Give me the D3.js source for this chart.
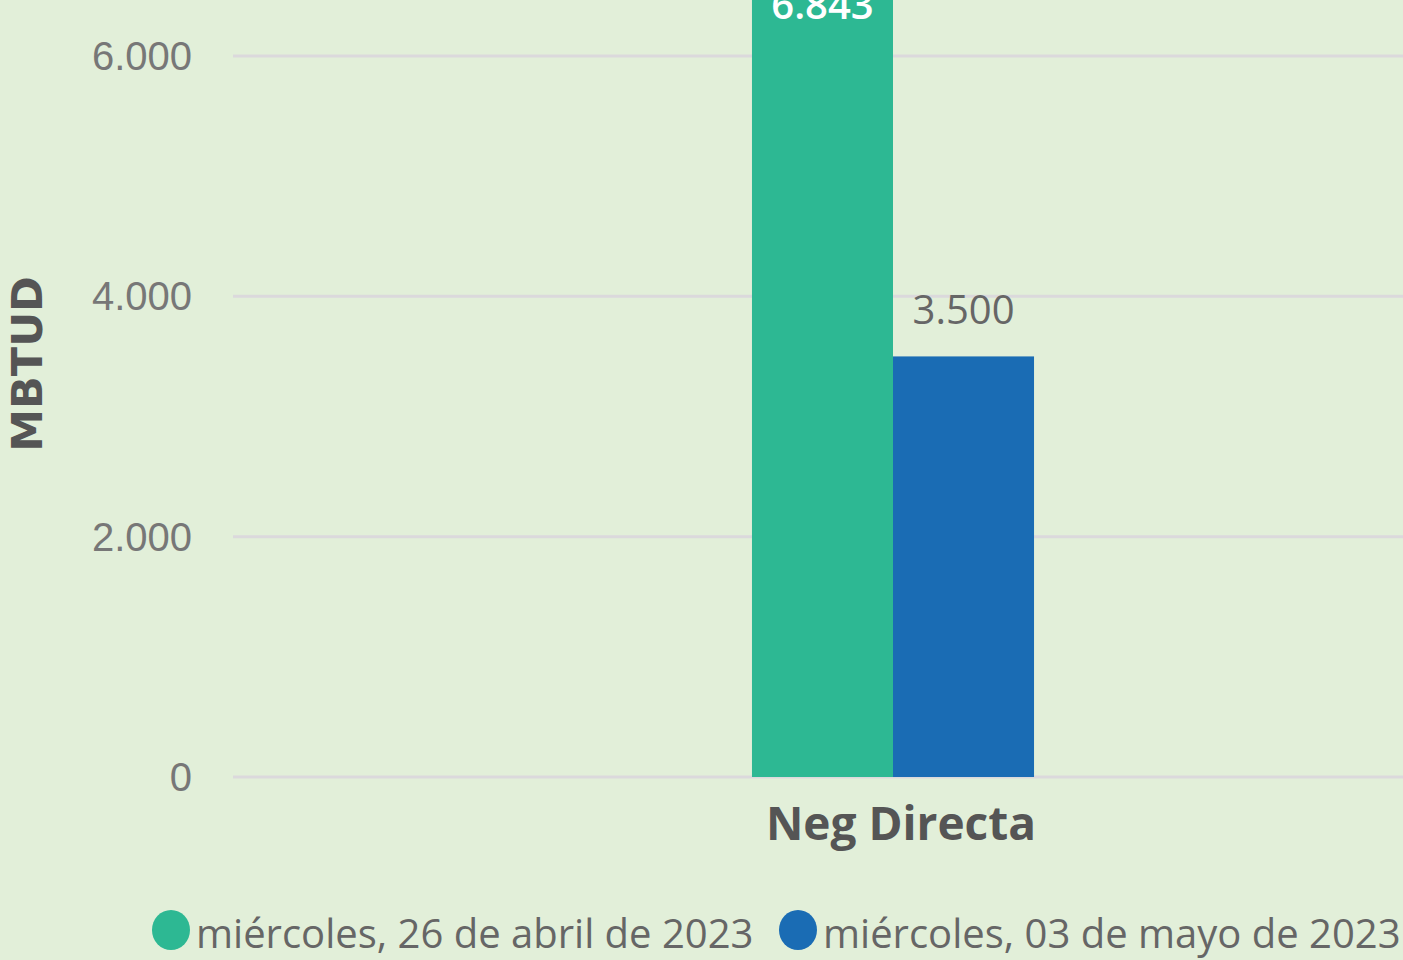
<!DOCTYPE html>
<html>
<head>
<meta charset="utf-8">
<script src="https://cdn.jsdelivr.net/npm/d3@7"></script>
<style>
  body { margin: 0; background: #e2efd9; overflow: hidden; }
  svg { display: block; font-family: "Open Sans", "Noto Sans", sans-serif; }
</style>
</head>
<body>
<script>
// chart data
var categories = ["Neg Directa"];
var seriesNames = ["miércoles, 26 de abril de 2023", "miércoles, 03 de mayo de 2023"];
var seriesValues = [[6843], [3500]];
var seriesColors = ["#2db893", "#1a6cb4"];
var yTicks = [0, 2000, 4000, 6000];
var yTitle = "MBTUD";

(function(){

var width = 1403,
    height = 960;

var svg = d3.select("body")
    .append("svg")
    .attr("width", width)
    .attr("height", height);

svg.append("rect")
    .attr("width", width)
    .attr("height", height)
    .attr("fill", "#e2efd9");

var locale = d3.formatLocale({decimal: ",", thousands: ".", grouping: [3], currency: ["", ""]});
var fmt = locale.format(",d");

// plot area runs past the right edge of the window
var x0 = d3.scaleBand()
    .domain(categories)
    .range([233, 1553])
    .paddingInner(0)
    .paddingOuter(1.84);

var x1 = d3.scaleBand()
    .domain(d3.range(seriesNames.length))
    .range([0, x0.bandwidth()])
    .padding(0);

var y = d3.scaleLinear()
    .domain([0, 6000])
    .range([777, 56]);

// gridlines
svg.selectAll(".grid")
    .data(yTicks)
    .enter()
    .append("line")
    .attr("class", "grid")
    .attr("x1", 233)
    .attr("x2", 1553)
    .attr("y1", function(d){ return y(d); })
    .attr("y2", function(d){ return y(d); })
    .attr("stroke", "#dbd9dc")
    .attr("stroke-width", 3);

// y axis labels
var yAxis = d3.axisLeft(y)
    .tickValues(yTicks)
    .tickFormat(fmt)
    .tickSize(0)
    .tickPadding(0);

var yg = svg.append("g")
    .attr("transform", "translate(192,0)")
    .call(yAxis);
yg.select(".domain").remove();
yg.selectAll("text")
    .attr("fill", "#777")
    .style("font-size", "40px")
    .attr("dy", "0.34em");

// bars
var groups = svg.selectAll(".cat")
    .data(categories)
    .enter()
    .append("g")
    .attr("class", "cat")
    .attr("transform", function(d){ return "translate(" + x0(d) + ",0)"; });

seriesNames.forEach(function(name, s){
    groups.append("rect")
        .attr("x", x1(s))
        .attr("width", x1.bandwidth())
        .attr("y", function(d, i){ return y(seriesValues[s][i]); })
        .attr("height", function(d, i){ return y(0) - y(seriesValues[s][i]); })
        .attr("fill", seriesColors[s]);

    groups.append("text")
        .attr("x", x1(s) + x1.bandwidth() / 2)
        .attr("y", function(d, i){
            var v = seriesValues[s][i];
            return s === 0 ? y(v) + 64 : y(v) - 32;
        })
        .attr("text-anchor", "middle")
        .attr("fill", s === 0 ? "#ffffff" : "#666")
        .style("font-size", "40px")
        .style("font-weight", s === 0 ? "600" : "400")
        .text(function(d, i){ return fmt(seriesValues[s][i]); });
});

// x axis labels
svg.selectAll(".xlab")
    .data(categories)
    .enter()
    .append("text")
    .attr("class", "xlab")
    .attr("x", function(d){ return x0(d) + x0.bandwidth() / 2 + 8; })
    .attr("y", 840)
    .attr("text-anchor", "middle")
    .attr("fill", "#555")
    .style("font-size", "46px")
    .style("font-weight", "bold")
    .text(function(d){ return d; });

// y title
svg.append("text")
    .attr("transform", "translate(42,364) rotate(-90)")
    .attr("text-anchor", "middle")
    .attr("fill", "#555")
    .style("font-family", "'DejaVu Sans', sans-serif")
    .style("font-size", "43px")
    .style("font-weight", "bold")
    .text(yTitle);

// legend
var legendX = [171, 798];
seriesNames.forEach(function(name, s){
    svg.append("ellipse")
        .attr("cx", legendX[s])
        .attr("cy", 930)
        .attr("rx", 19)
        .attr("ry", 20)
        .attr("fill", seriesColors[s]);
    svg.append("text")
        .attr("x", legendX[s] + 25)
        .attr("y", 948)
        .attr("fill", "#666")
        .style("font-size", "40px")
        .text(name);
});

})();
</script>
</body>
</html>
